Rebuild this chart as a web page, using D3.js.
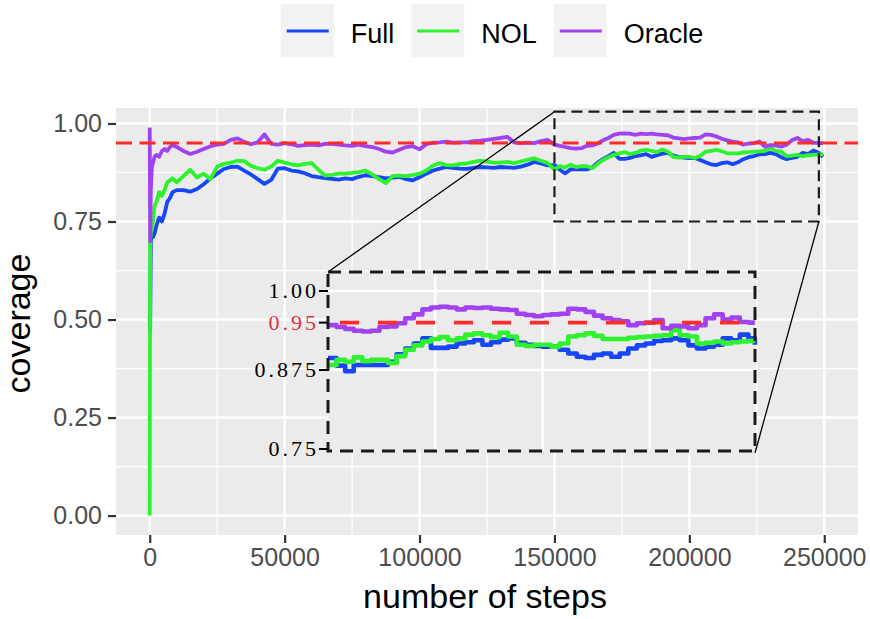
<!DOCTYPE html>
<html>
<head>
<meta charset="utf-8">
<script src="https://cdn.jsdelivr.net/npm/d3@7/dist/d3.min.js"></script>
<style>
  html, body { margin: 0; padding: 0; background: #ffffff; }
  svg { display: block; }
  text { font-family: "Liberation Sans", Arial, sans-serif; }
</style>
</head>
<body>
<svg id="chart" width="870" height="619"></svg>
<script>
// ---- data: running coverage after each number of steps ----
const steps = [
  0, 150, 400, 800, 1200, 1800, 2500, 3500, 4500, 5500, 6500, 7500, 8500, 10000,
  12500, 15000, 17500, 20000, 22500, 25000, 27500, 30000, 32500, 35000,
  37500, 40000, 42500, 45000, 47500, 50000, 52500, 55000, 57500, 60000,
  62500, 65000, 67500, 70000, 72500, 75000, 77500, 80000, 82500, 85000,
  87500, 90000, 92500, 95000, 97500, 100000, 102500, 105000, 107500, 110000,
  112500, 115000, 117500, 120000, 122500, 125000, 127500, 130000, 132500, 135000,
  137500, 140000, 142500, 145000, 147500,
  150000, 152000, 154000, 156000, 158000, 160000, 162000, 164000, 166000, 168000,
  170000, 172000, 174000, 176000, 178000, 180000, 182000, 184000, 186000, 188000,
  190000, 192000, 194000, 196000, 198000, 200000, 202000, 204000, 206000, 208000,
  210000, 212000, 214000, 216000, 218000, 220000, 222000, 224000, 226000, 228000,
  230000, 232000, 234000, 236000, 238000, 240000, 242000, 244000, 246000, 248000,
  249500
];

const fullCov = [
  0.51, 0.47, 0.70, 0.72, 0.71, 0.72, 0.74, 0.76, 0.75, 0.77, 0.80, 0.81, 0.825, 0.83,
  0.830, 0.826, 0.833, 0.845, 0.860, 0.872, 0.884, 0.889, 0.890, 0.880,
  0.870, 0.858, 0.846, 0.856, 0.885, 0.886, 0.880, 0.878, 0.873, 0.866,
  0.863, 0.861, 0.859, 0.857, 0.860, 0.858, 0.864, 0.868, 0.866, 0.863,
  0.860, 0.862, 0.864, 0.858, 0.855, 0.863, 0.872, 0.880, 0.885, 0.889,
  0.887, 0.885, 0.884, 0.887, 0.889, 0.888, 0.887, 0.889, 0.888, 0.887,
  0.890, 0.895, 0.902, 0.898, 0.893,
  0.894, 0.882, 0.873, 0.883, 0.883, 0.883, 0.883, 0.888, 0.900, 0.909,
  0.917, 0.925, 0.910, 0.910, 0.912, 0.917, 0.919, 0.922, 0.915, 0.919,
  0.923, 0.925, 0.918, 0.915, 0.913, 0.912, 0.912, 0.907, 0.901, 0.896,
  0.894, 0.899, 0.901, 0.896, 0.901, 0.909, 0.914, 0.917, 0.921, 0.922,
  0.925, 0.922, 0.914, 0.909, 0.912, 0.915, 0.925, 0.922, 0.931, 0.925,
  0.915
];

const nolCov = [
  0.00, 0.70, 0.72, 0.73, 0.75, 0.79, 0.80, 0.825, 0.815, 0.83, 0.85, 0.855, 0.86, 0.85,
  0.866, 0.882, 0.862, 0.872, 0.858, 0.890, 0.897, 0.900, 0.905, 0.904,
  0.892, 0.886, 0.882, 0.890, 0.905, 0.900, 0.896, 0.893, 0.897, 0.899,
  0.882, 0.867, 0.869, 0.872, 0.872, 0.874, 0.876, 0.880, 0.870, 0.858,
  0.848, 0.866, 0.867, 0.866, 0.869, 0.872, 0.880, 0.893, 0.899, 0.894,
  0.893, 0.897, 0.898, 0.902, 0.905, 0.903, 0.900, 0.900, 0.902, 0.899,
  0.903, 0.907, 0.911, 0.905, 0.899,
  0.883, 0.891, 0.888, 0.895, 0.889, 0.891, 0.891, 0.886, 0.897, 0.907,
  0.914, 0.920, 0.924, 0.927, 0.922, 0.925, 0.931, 0.933, 0.930, 0.927,
  0.934, 0.928, 0.915, 0.913, 0.915, 0.915, 0.912, 0.917, 0.928, 0.930,
  0.933, 0.929, 0.924, 0.924, 0.924, 0.926, 0.927, 0.928, 0.929, 0.930,
  0.938, 0.930, 0.928, 0.917, 0.918, 0.920, 0.917, 0.919, 0.920, 0.921,
  0.921
];

const oracleCov = [
  0.99, 0.70, 0.83, 0.89, 0.90, 0.915, 0.92, 0.915, 0.93, 0.935, 0.93, 0.94, 0.945, 0.94,
  0.930, 0.922, 0.928, 0.935, 0.942, 0.946, 0.948, 0.958, 0.962, 0.953,
  0.947, 0.952, 0.972, 0.948, 0.946, 0.950, 0.947, 0.943, 0.945, 0.946,
  0.944, 0.948, 0.948, 0.946, 0.944, 0.943, 0.946, 0.942, 0.940, 0.935,
  0.928, 0.926, 0.933, 0.940, 0.942, 0.934, 0.947, 0.951, 0.952, 0.954,
  0.951, 0.952, 0.952, 0.955, 0.956, 0.958, 0.961, 0.963, 0.966, 0.952,
  0.950, 0.951, 0.950, 0.955, 0.958,
  0.946, 0.943, 0.940, 0.937, 0.936, 0.937, 0.943, 0.944, 0.949, 0.957,
  0.963, 0.971, 0.974, 0.975, 0.974, 0.971, 0.974, 0.973, 0.974, 0.972,
  0.971, 0.970, 0.964, 0.962, 0.960, 0.962, 0.963, 0.964, 0.972, 0.971,
  0.967, 0.961, 0.957, 0.954, 0.952, 0.946, 0.949, 0.950, 0.954, 0.941,
  0.945, 0.944, 0.941, 0.946, 0.957, 0.963, 0.955, 0.958, 0.951, 0.950,
  0.950
];

const seriesNames = ["Full", "NOL", "Oracle"];
const xTicks = [0, 50000, 100000, 150000, 200000, 250000];
const xMinorTicks = [25000, 75000, 125000, 175000, 225000];
const yTicks = [0, 0.25, 0.5, 0.75, 1];
const yMinorTicks = [0.125, 0.375, 0.625, 0.875];
const targetLevel = 0.95;

// zoomed window (data units) and its detail ticks
const zoomSteps = [150000, 248000];
const zoomCoverage = [0.75, 1.03];
const insetXDomain = [150000, 250000];
const insetYDomain = [0.75, 1.00];
const insetXGrid = [175000, 200000, 225000];
const insetYGrid = [0.875, 1.00];
const insetYTicks = [1.00, 0.95, 0.875, 0.75];
const insetYLabels = ["1.00", "0.95", "0.875", "0.75"];

// ---- styling ----
const colors = { Full: "#1746f5", NOL: "#2ef22e", Oracle: "#a043ee" };
const valuesBySeries = { Full: fullCov, NOL: nolCov, Oracle: oracleCov };
const panelBg = "#ebebeb";

const svg = d3.select("#chart");
const panel = { left: 116, right: 858, top: 108, bottom: 535 };

const x = d3.scaleLinear().domain([-12500, 262500]).range([panel.left, panel.right]);
const y = d3.scaleLinear().domain([-0.0495, 1.0395]).range([panel.bottom, panel.top]);

const series = seriesNames.map(name => ({
  name,
  points: steps.map((s, i) => ({ step: s, value: valuesBySeries[name][i] }))
}));

// panel background
svg.append("rect")
  .attr("x", panel.left).attr("y", panel.top)
  .attr("width", panel.right - panel.left).attr("height", panel.bottom - panel.top)
  .attr("fill", panelBg);

const grid = svg.append("g");
grid.selectAll(".gxm").data(xMinorTicks).join("line")
  .attr("x1", d => x(d)).attr("x2", d => x(d))
  .attr("y1", panel.top).attr("y2", panel.bottom)
  .attr("stroke", "#fff").attr("stroke-width", 1.2);
grid.selectAll(".gym").data(yMinorTicks).join("line")
  .attr("y1", d => y(d)).attr("y2", d => y(d))
  .attr("x1", panel.left).attr("x2", panel.right)
  .attr("stroke", "#fff").attr("stroke-width", 1.2);
grid.selectAll(".gx").data(xTicks).join("line")
  .attr("x1", d => x(d)).attr("x2", d => x(d))
  .attr("y1", panel.top).attr("y2", panel.bottom)
  .attr("stroke", "#fff").attr("stroke-width", 2.4);
grid.selectAll(".gy").data(yTicks).join("line")
  .attr("y1", d => y(d)).attr("y2", d => y(d))
  .attr("x1", panel.left).attr("x2", panel.right)
  .attr("stroke", "#fff").attr("stroke-width", 2.4);

// coverage curves
const line = d3.line().x(d => x(d.step)).y(d => y(d.value));
svg.append("g").selectAll("path").data(series).join("path")
  .attr("d", d => line(d.points))
  .attr("fill", "none")
  .attr("stroke", d => colors[d.name])
  .attr("stroke-width", 3.8)
  .attr("stroke-linejoin", "round");

// nominal level
svg.append("line")
  .attr("x1", panel.left).attr("x2", panel.right)
  .attr("y1", y(targetLevel)).attr("y2", y(targetLevel))
  .attr("stroke", "#ff2a2a").attr("stroke-width", 3)
  .attr("stroke-dasharray", "16,7.5");

// zoom window on the main panel
svg.append("rect")
  .attr("x", x(zoomSteps[0])).attr("y", y(zoomCoverage[1]))
  .attr("width", x(zoomSteps[1]) - x(zoomSteps[0]))
  .attr("height", y(zoomCoverage[0]) - y(zoomCoverage[1]))
  .attr("fill", "none").attr("stroke", "#1a1a1a").attr("stroke-width", 2.2)
  .attr("stroke-dasharray", "11,6");

// inset layout
const inset = { left: 328, right: 755, top: 272, bottom: 451 };
const ix = d3.scaleLinear().domain(insetXDomain).range([inset.left, inset.right + 2]);
const iy = d3.scaleLinear().domain(insetYDomain).range([inset.bottom - 2, inset.top + 19]);

// connectors from the window to the inset
svg.append("line")
  .attr("x1", x(zoomSteps[0])).attr("y1", y(zoomCoverage[1]))
  .attr("x2", inset.left).attr("y2", inset.top)
  .attr("stroke", "#000").attr("stroke-width", 1.3);
svg.append("line")
  .attr("x1", x(zoomSteps[1])).attr("y1", y(zoomCoverage[0]))
  .attr("x2", inset.right).attr("y2", inset.bottom + 2)
  .attr("stroke", "#000").attr("stroke-width", 1.3);

const ig = svg.append("g");
ig.append("rect")
  .attr("x", inset.left).attr("y", inset.top)
  .attr("width", inset.right - inset.left).attr("height", inset.bottom - inset.top)
  .attr("fill", panelBg);
ig.selectAll(".igx").data(insetXGrid).join("line")
  .attr("x1", d => ix(d)).attr("x2", d => ix(d))
  .attr("y1", inset.top).attr("y2", inset.bottom)
  .attr("stroke", "#fff").attr("stroke-width", 2.4);
ig.selectAll(".igy").data(insetYGrid).join("line")
  .attr("y1", d => iy(d)).attr("y2", d => iy(d))
  .attr("x1", inset.left).attr("x2", inset.right)
  .attr("stroke", "#fff").attr("stroke-width", 2.4);

const iline = d3.line().curve(d3.curveStepAfter).x(d => ix(d.step)).y(d => iy(d.value));
ig.selectAll(".iseries").data(series).join("path")
  .attr("d", d => iline(d.points.filter(p => p.step >= insetXDomain[0])))
  .attr("fill", "none")
  .attr("stroke", d => colors[d.name])
  .attr("stroke-width", 4.6)
  .attr("stroke-linejoin", "round");

ig.append("line")
  .attr("x1", inset.left).attr("x2", inset.right + 3)
  .attr("y1", iy(targetLevel)).attr("y2", iy(targetLevel))
  .attr("stroke", "#ff2a2a").attr("stroke-width", 3.8)
  .attr("stroke-dasharray", "19,19").attr("stroke-dashoffset", 26);

ig.append("rect")
  .attr("x", inset.left).attr("y", inset.top)
  .attr("width", inset.right - inset.left).attr("height", inset.bottom - inset.top)
  .attr("fill", "none").attr("stroke", "#1a1a1a").attr("stroke-width", 3)
  .attr("stroke-dasharray", "13,8");

// inset y ticks
const iyt = ig.selectAll(".iyt").data(insetYTicks).join("g")
  .attr("transform", d => `translate(0,${iy(d)})`);
iyt.append("line")
  .attr("x1", inset.left - 9).attr("x2", inset.left)
  .attr("stroke", "#000").attr("stroke-width", 2);
iyt.append("text")
  .attr("x", inset.left - 9).attr("dy", "0.34em")
  .attr("text-anchor", "end")
  .style("font-family", "'Liberation Serif', 'Times New Roman', serif")
  .style("font-size", "22px")
  .style("letter-spacing", "3px")
  .attr("fill", d => d === targetLevel ? "#e2304a" : "#000")
  .text((d, i) => insetYLabels[i]);

// axes
const xAxis = svg.append("g")
  .attr("transform", `translate(0,${panel.bottom})`)
  .call(d3.axisBottom(x).tickValues(xTicks).tickFormat(d3.format("d")).tickSize(8).tickPadding(5));
const yAxis = svg.append("g")
  .attr("transform", `translate(${panel.left},0)`)
  .call(d3.axisLeft(y).tickValues(yTicks).tickFormat(d3.format(".2f")).tickSize(8).tickPadding(6));
[xAxis, yAxis].forEach(a => {
  a.select(".domain").remove();
  a.selectAll(".tick line").attr("stroke", "#333").attr("stroke-width", 2.2);
  a.selectAll(".tick text")
    .attr("fill", "#4d4d4d")
    .style("font-family", "'Liberation Sans', Arial, sans-serif")
    .style("font-size", "25px");
});

svg.append("text")
  .attr("x", (panel.left + panel.right) / 2 - 2).attr("y", 608)
  .attr("text-anchor", "middle")
  .style("font-size", "34px").attr("fill", "#000")
  .text("number of steps");
svg.append("text")
  .attr("transform", `translate(30,${(panel.top + panel.bottom) / 2 + 2}) rotate(-90)`)
  .attr("text-anchor", "middle")
  .style("font-size", "34px").attr("fill", "#000")
  .text("coverage");

// legend
const legend = svg.append("g");
const keySize = 53, keyGap = 17;
let cursor = 0;
seriesNames.forEach(name => {
  const g = legend.append("g").attr("transform", `translate(${cursor},0)`);
  g.append("rect").attr("x", 0).attr("y", 4)
    .attr("width", keySize).attr("height", keySize).attr("fill", "#f2f2f2");
  g.append("line").attr("x1", 6).attr("x2", keySize - 5)
    .attr("y1", 31).attr("y2", 31)
    .attr("stroke", colors[name]).attr("stroke-width", 2.8);
  const t = g.append("text").attr("x", keySize + keyGap).attr("y", 42.5)
    .style("font-size", "27px").attr("fill", "#000").text(name);
  const w = t.node().getComputedTextLength();
  cursor += keySize + keyGap + w + keyGap;
});
const legendWidth = cursor - keyGap;
legend.attr("transform", `translate(${492 - legendWidth / 2},0)`);
</script>
</body>
</html>
